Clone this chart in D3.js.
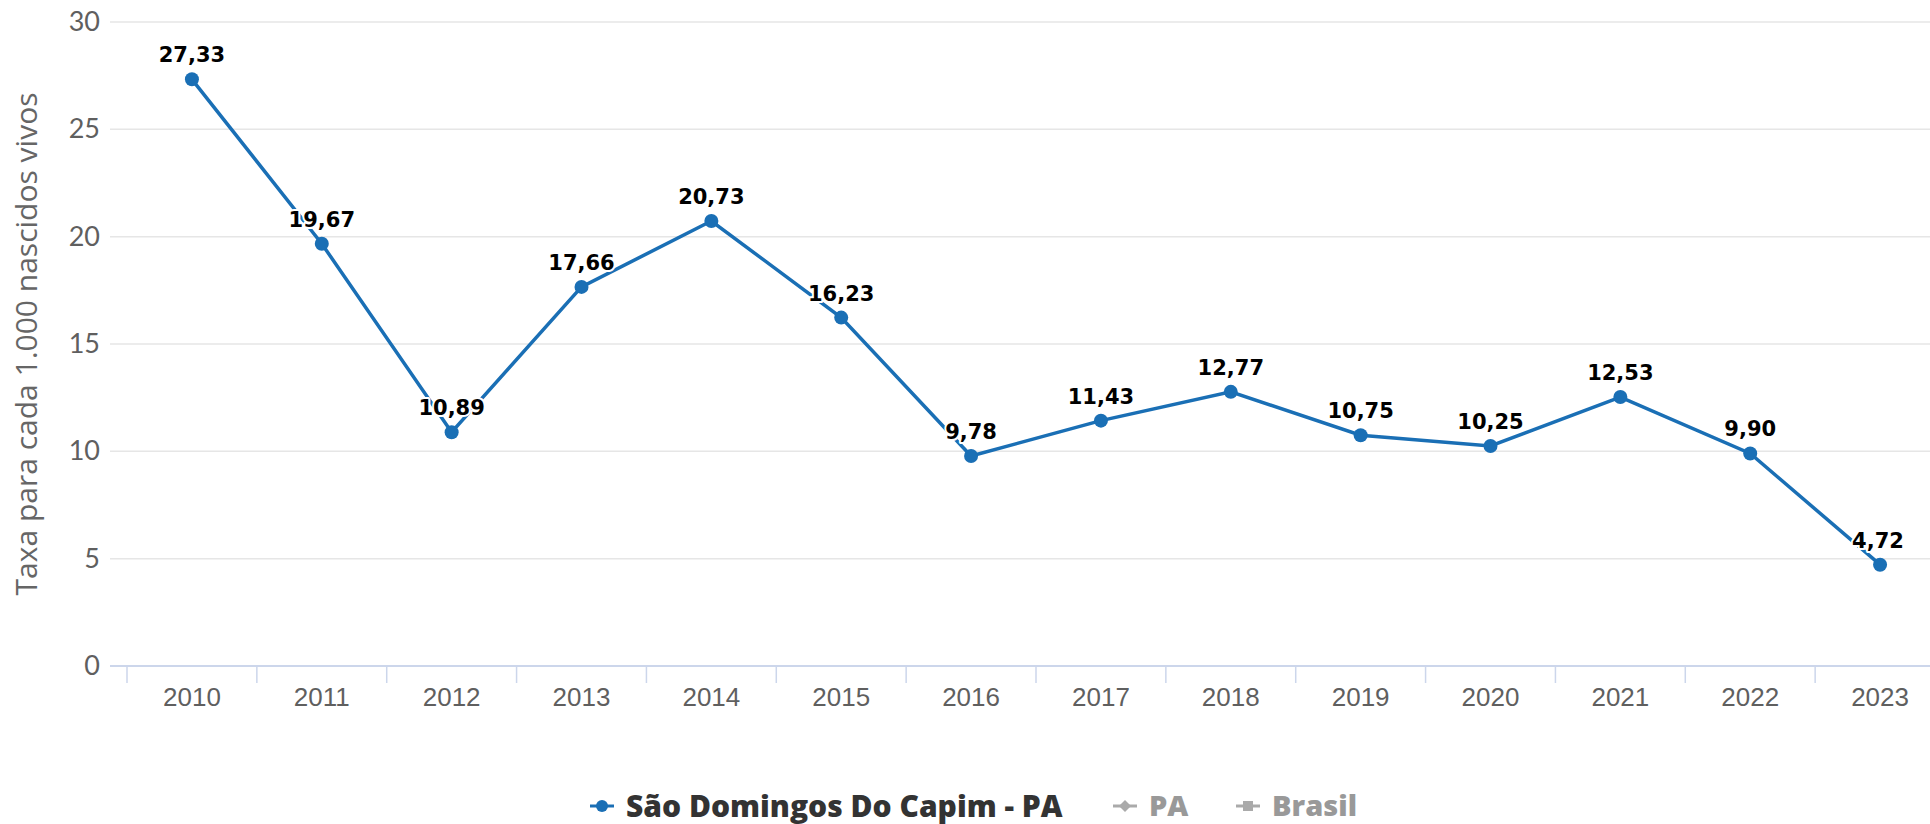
<!DOCTYPE html>
<html>
<head>
<meta charset="utf-8">
<script src="https://cdn.jsdelivr.net/npm/d3@7"></script>
<style>
  body { margin: 0; background: #fff; }
  svg { display: block; font-family: "Lato", "Open Sans", sans-serif; }
</style>
</head>
<body>
<div id="chart"></div>
<script>
// chart data
let years = ["2010", "2011", "2012", "2013", "2014", "2015", "2016", "2017", "2018", "2019", "2020", "2021", "2022", "2023"];
let taxa = [27.33, 19.67, 10.89, 17.66, 20.73, 16.23, 9.78, 11.43, 12.77, 10.75, 10.25, 12.53, 9.90, 4.72];
let yTicks = [0, 5, 10, 15, 20, 25, 30];
let legendNames = ["São Domingos Do Capim - PA", "PA", "Brasil"];

let svgWidth = 1930;
let svgHeight = 824;

let margin = { top: 22, right: 0, bottom: 158, left: 110 };
let plotWidth = svgWidth - margin.left - margin.right;
let plotHeight = svgHeight - margin.top - margin.bottom;

let lineColor = "#1a6fb5";

let svg = d3.select("#chart")
  .append("svg")
  .attr("width", svgWidth)
  .attr("height", svgHeight);

let chartGroup = svg.append("g")
  .attr("transform", `translate(${margin.left}, ${margin.top})`);

// scales
let xScale = d3.scaleBand()
  .domain(years)
  .range([17, 1835]);

let yScale = d3.scaleLinear()
  .domain([0, 30])
  .range([plotHeight, 0]);

// gridlines
chartGroup.append("g")
  .selectAll("line")
  .data(yTicks.filter(d => d > 0))
  .enter()
  .append("line")
  .attr("x1", 0)
  .attr("x2", plotWidth)
  .attr("y1", d => yScale(d))
  .attr("y2", d => yScale(d))
  .attr("stroke", "#e6e6e6")
  .attr("stroke-width", 1.5);

// y axis labels
let leftAxis = d3.axisLeft(yScale).tickValues(yTicks).tickSize(0).tickPadding(10);
let yAxisG = chartGroup.append("g").call(leftAxis);
yAxisG.select(".domain").remove();
yAxisG.selectAll("text")
  .attr("font-size", 27)
  .attr("fill", "#5f5f5f")
  .attr("font-family", "Lato, sans-serif");

// x axis
let bottomAxis = d3.axisBottom(xScale).tickSize(0).tickPadding(22);
let xAxisG = chartGroup.append("g")
  .attr("transform", `translate(0, ${plotHeight})`)
  .call(bottomAxis);
xAxisG.select(".domain").remove();
xAxisG.selectAll("text")
  .attr("font-size", 26)
  .attr("fill", "#5f5f5f");

xAxisG.append("line")
  .attr("x1", 0)
  .attr("x2", plotWidth)
  .attr("stroke", "#ccd6eb")
  .attr("stroke-width", 2);

// tick marks on band boundaries
xAxisG.append("g")
  .selectAll("line")
  .data(years)
  .enter()
  .append("line")
  .attr("x1", d => xScale(d))
  .attr("x2", d => xScale(d))
  .attr("y1", 0)
  .attr("y2", 17)
  .attr("stroke", "#ccd6eb")
  .attr("stroke-width", 1.5);

// y axis title
svg.append("text")
  .attr("transform", `translate(37, ${margin.top + plotHeight / 2}) rotate(-90)`)
  .attr("text-anchor", "middle")
  .attr("font-size", 30)
  .attr("font-family", "Open Sans, sans-serif")
  .attr("fill", "#666")
  .text("Taxa para cada 1.000 nascidos vivos");

// line
let xPos = (d, i) => xScale(years[i]) + xScale.bandwidth() / 2;

let line = d3.line()
  .x((d, i) => xPos(d, i))
  .y(d => yScale(d));

chartGroup.append("path")
  .datum(taxa)
  .attr("d", line)
  .attr("fill", "none")
  .attr("stroke", lineColor)
  .attr("stroke-width", 3.5);

chartGroup.append("g")
  .selectAll("circle")
  .data(taxa)
  .enter()
  .append("circle")
  .attr("cx", (d, i) => xPos(d, i))
  .attr("cy", d => yScale(d))
  .attr("r", 7)
  .attr("fill", lineColor);

// data labels
let fmt = d => d.toFixed(2).replace(".", ",");

chartGroup.append("g")
  .selectAll("text")
  .data(taxa)
  .enter()
  .append("text")
  .attr("x", (d, i) => Math.min(xPos(d, i), plotWidth - 52))
  .attr("y", d => yScale(d) - 17)
  .attr("text-anchor", "middle")
  .attr("font-size", 21)
  .attr("font-weight", "bold")
  .attr("font-family", "DejaVu Sans, sans-serif")
  .attr("fill", "#000")
  .attr("stroke", "#fff")
  .attr("stroke-width", 4)
  .attr("stroke-linejoin", "round")
  .attr("paint-order", "stroke")
  .text(d => fmt(d));

// legend
let legendColors = [lineColor, "#aaa", "#aaa"];
let legendText = ["#333", "#999", "#999"];
let legendX = [590, 1113, 1236];

let legend = svg.append("g")
  .attr("transform", "translate(0, 806)");

let items = legend.selectAll("g")
  .data(legendNames)
  .enter()
  .append("g")
  .attr("transform", (d, i) => `translate(${legendX[i]}, 0)`);

items.append("line")
  .attr("x1", 0)
  .attr("x2", 24)
  .attr("stroke", (d, i) => legendColors[i])
  .attr("stroke-width", 3);

items.each(function(d, i) {
  let g = d3.select(this);
  if (i === 2) {
    g.append("rect").attr("x", 7).attr("y", -5).attr("width", 10).attr("height", 10).attr("fill", legendColors[i]);
  } else if (i === 1) {
    g.append("path").attr("d", "M12,-6 L18,0 L12,6 L6,0 Z").attr("fill", legendColors[i]);
  } else {
    g.append("circle").attr("cx", 12).attr("r", 6).attr("fill", legendColors[i]);
  }
});

items.append("text")
  .attr("x", 36)
  .attr("dy", "0.35em")
  .attr("font-size", (d, i) => i === 0 ? 30 : 29)
  .attr("font-weight", 800)
  .attr("font-family", "Open Sans, sans-serif")
  .attr("fill", (d, i) => legendText[i])
  .text(d => d);
</script>
</body>
</html>
